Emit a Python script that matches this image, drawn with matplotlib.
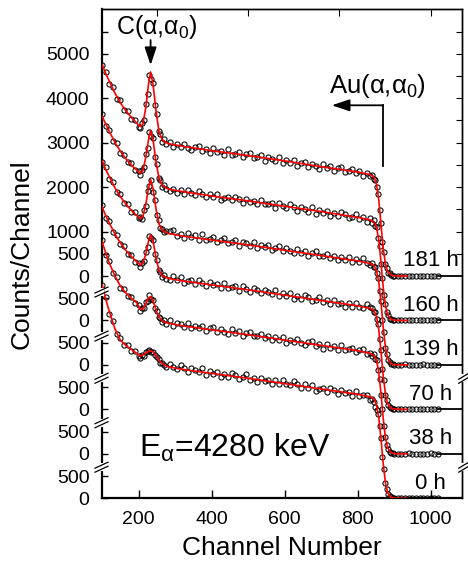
import numpy as np
import matplotlib
matplotlib.use('Agg')
import matplotlib.pyplot as plt

plt.rcParams['font.family'] = ['Liberation Sans', 'DejaVu Sans']
plt.rcParams['mathtext.fontset'] = 'custom'
plt.rcParams['mathtext.rm'] = 'Liberation Sans'
plt.rcParams['mathtext.it'] = 'Liberation Sans:italic'

# channel numbers of the plotted data points
ch = np.concatenate([np.arange(100, 201, 10), np.arange(205, 276, 5),
                     np.arange(285, 836, 10), np.arange(840, 901, 4),
                     np.arange(910, 1021, 10)])

labels = ['181 h', '160 h', '139 h', '70 h', '38 h', '0 h']
offsets = [5000, 4000, 3000, 2000, 1000, 0]

c181 = [4740, 4600, 4330, 4260, 3990, 3950, 3740, 3720, 3540, 3520, 3360,
        3330, 3440, 3520, 3870, 4100, 4520, 4440, 4350, 3850, 3650, 3260, 3200, 3010, 3080, 2960,
        3010, 2900, 2960, 2900, 2980, 2890, 2840, 2910, 2920, 2810, 2850, 2760, 2870, 2780, 2820, 2720,
        2850, 2730, 2750, 2780, 2680, 2740, 2760, 2650, 2670, 2720, 2590, 2670, 2640, 2590, 2680, 2550,
        2600, 2550, 2600, 2480, 2540, 2570, 2460, 2520, 2470, 2410, 2510, 2420, 2470, 2370, 2430, 2460,
        2350, 2360, 2410, 2310, 2360, 2260, 2320, 2260,
        2270, 2190, 2170, 2010, 1850, 1480, 1200, 760, 540, 260, 180, 70, 60, 20, 10, 0,
        0, 10, 0, 5, 0, 0, 10, 0, 5, 0, 0, 5]
c160 = [4640, 4380, 4290, 4040, 3990, 3770, 3720, 3560, 3540, 3380, 3370,
        3280, 3390, 3450, 3740, 3890, 4230, 4150, 4100, 3680, 3520, 3200, 3160, 3000, 3050, 2950,
        2920, 2960, 2860, 2940, 2850, 2930, 2860, 2830, 2910, 2850, 2770, 2850, 2780, 2840, 2710, 2750,
        2780, 2700, 2780, 2730, 2650, 2740, 2660, 2690, 2610, 2720, 2610, 2630, 2640, 2530, 2640, 2570,
        2520, 2610, 2560, 2470, 2550, 2500, 2450, 2550, 2400, 2480, 2410, 2470, 2340, 2410, 2350, 2430,
        2390, 2300, 2330, 2400, 2280, 2320, 2220, 2310,
        2200, 2250, 2120, 2100, 1850, 1680, 1260, 960, 580, 360, 180, 120, 40, 30, 10, 5,
        5, 0, 0, 10, 0, 5, 0, 0, 10, 0, 5, 0]
c139 = [4560, 4450, 4180, 4110, 3880, 3840, 3640, 3610, 3440, 3430, 3300,
        3320, 3290, 3480, 3580, 3920, 4020, 4160, 3900, 3720, 3380, 3250, 3080, 3060, 2980, 3010,
        3010, 3030, 2910, 2950, 2850, 2960, 2880, 2920, 2810, 2940, 2820, 2840, 2870, 2760, 2820, 2850,
        2740, 2760, 2810, 2680, 2770, 2740, 2680, 2770, 2640, 2700, 2650, 2690, 2580, 2640, 2670, 2570,
        2620, 2570, 2510, 2610, 2520, 2570, 2460, 2520, 2560, 2450, 2450, 2500, 2400, 2460, 2360, 2420,
        2360, 2420, 2310, 2380, 2310, 2400, 2300, 2250,
        2290, 2210, 2200, 2070, 1960, 1660, 1430, 1000, 730, 380, 250, 110, 70, 30, 20, 0,
        0, 5, 10, 0, 0, 5, 0, 10, 0, 0, 5, 0]
c70 = [4600, 4310, 4230, 3980, 3920, 3710, 3680, 3490, 3470, 3320, 3300,
       3210, 3300, 3340, 3540, 3660, 3900, 3850, 3820, 3500, 3370, 3130, 3100, 2980, 3020, 2940,
       2910, 2990, 2910, 2980, 2840, 2880, 2910, 2830, 2900, 2850, 2770, 2860, 2790, 2810, 2730, 2840,
       2730, 2760, 2770, 2660, 2770, 2700, 2650, 2740, 2690, 2610, 2690, 2630, 2590, 2690, 2540, 2620,
       2550, 2610, 2480, 2540, 2480, 2570, 2520, 2430, 2460, 2530, 2410, 2450, 2360, 2450, 2370, 2400,
       2310, 2390, 2310, 2390, 2310, 2280, 2360, 2300,
       2280, 2190, 2180, 2040, 1910, 1590, 1330, 910, 650, 330, 220, 90, 60, 30, 10, 5,
       10, 0, 5, 0, 0, 10, 0, 5, 0, 5, 0, 0]
c38 = [4820, 4480, 4340, 4060, 3970, 3740, 3700, 3550, 3520, 3400, 3340,
       3210, 3280, 3270, 3420, 3440, 3570, 3480, 3470, 3280, 3220, 3070, 3060, 2970, 3000, 2930,
       3000, 2870, 2950, 2920, 2860, 2950, 2820, 2880, 2820, 2870, 2760, 2820, 2850, 2740, 2800, 2750,
       2690, 2800, 2710, 2760, 2660, 2720, 2750, 2640, 2650, 2700, 2600, 2650, 2550, 2620, 2560, 2620,
       2500, 2570, 2510, 2590, 2500, 2450, 2510, 2530, 2420, 2460, 2360, 2470, 2390, 2430, 2330, 2450,
       2330, 2350, 2380, 2280, 2330, 2360, 2240, 2260,
       2200, 2240, 2130, 2110, 1880, 1690, 1320, 1010, 630, 390, 200, 120, 50, 30, 20, 0,
       0, 0, 5, 10, 0, 0, 5, 0, 0, 10, 0, 5]
c0 = [4790, 4530, 4150, 3990, 3700, 3600, 3450, 3440, 3320, 3310, 3200,
      3150, 3230, 3200, 3290, 3310, 3340, 3280, 3300, 3220, 3170, 3140, 3050, 3040, 2990, 2960,
      3020, 2950, 2900, 2990, 2930, 2850, 2930, 2880, 2830, 2930, 2780, 2860, 2800, 2850, 2720, 2790,
      2730, 2820, 2780, 2690, 2720, 2790, 2670, 2710, 2620, 2710, 2630, 2660, 2570, 2650, 2570, 2650,
      2570, 2540, 2630, 2560, 2480, 2560, 2480, 2550, 2420, 2460, 2480, 2400, 2480, 2430, 2350, 2430,
      2360, 2390, 2310, 2420, 2300, 2330, 2330, 2220,
      2230, 2170, 2060, 1990, 1900, 1620, 1360, 940, 660, 340, 220, 100, 50, 20, 10, 5,
      5, 0, 0, 5, 10, 0, 0, 5, 0, 0, 10, 0]

# fitted curves (red lines)
fit_ch = [100, 110, 120, 135, 150, 165, 180, 195, 205, 212, 220, 227, 233, 240, 248, 256, 265,
          280, 320, 400, 500, 600, 700, 800, 835, 845, 852, 858, 864, 870, 876, 882, 890, 900, 935]
f181 = [4760, 4560, 4380, 4120, 3900, 3720, 3570, 3440, 3360, 3420, 3800, 4300, 4590, 4300, 3700, 3250, 3060,
        2980, 2920, 2820, 2710, 2590, 2460, 2340, 2280, 2220, 2050, 1700, 1150, 620, 280, 110, 30, 5, 0]
f160 = [4600, 4420, 4250, 4010, 3810, 3640, 3500, 3380, 3310, 3370, 3680, 4050, 4280, 4050, 3550, 3200, 3040,
        2960, 2900, 2800, 2690, 2570, 2450, 2320, 2260, 2210, 2080, 1800, 1300, 750, 340, 130, 35, 5, 0]
f139 = [4600, 4400, 4230, 3990, 3790, 3620, 3480, 3360, 3290, 3340, 3620, 3960, 4170, 3960, 3500, 3170, 3030,
        2960, 2900, 2810, 2700, 2580, 2460, 2340, 2280, 2230, 2110, 1850, 1400, 850, 400, 150, 40, 5, 0]
f70 = [4560, 4360, 4190, 3950, 3750, 3580, 3440, 3320, 3250, 3290, 3500, 3780, 3930, 3780, 3400, 3130, 3010,
       2950, 2890, 2800, 2690, 2570, 2450, 2330, 2270, 2220, 2080, 1780, 1300, 760, 350, 130, 35, 5, 0]
f38 = [4780, 4520, 4290, 4010, 3780, 3620, 3500, 3400, 3250, 3260, 3380, 3500, 3540, 3440, 3230, 3080, 2990,
       2940, 2880, 2790, 2680, 2560, 2440, 2320, 2260, 2210, 2090, 1820, 1350, 800, 370, 140, 35, 5, 0]
f0 = [4810, 4480, 4200, 3820, 3560, 3440, 3350, 3260, 3200, 3220, 3270, 3300, 3320, 3290, 3210, 3110, 3030,
      2960, 2900, 2810, 2700, 2580, 2460, 2340, 2280, 2230, 2090, 1800, 1330, 780, 360, 130, 30, 5, 0]

data = [c181, c160, c139, c70, c38, c0]
fits = [f181, f160, f139, f70, f38, f0]

breaks_left = [700, 1700, 2700, 3650, 4640]
breaks_right = [700, 2700]

xmin, xmax = 100, 1085
ymin, ymax = 0, 11000

fig = plt.figure(figsize=(4.68, 5.66), dpi=100)
ax = fig.add_axes([0.218, 0.1196, 0.7686, 0.864])
ax.set_xlim(xmin, xmax)
ax.set_ylim(ymin, ymax)

for cts, off in zip(data, offsets):
    ax.plot(ch, np.array(cts) + off, 'o', mfc='none', mec='black', ms=3.7, mew=0.75, zorder=2)
for f, off in zip(fits, offsets):
    ax.plot(fit_ch, np.array(f) + off, '-', color='red', lw=1.2, zorder=3)
for off, lab in zip(offsets, labels):
    if off > 0:
        ax.plot([ch[-1], xmax], [off, off], color='black', lw=1.3, zorder=3)
    ax.text(1000, off + 215, lab, ha='center', va='baseline', fontsize=16)

# y ticks: 0/500 for every lower spectrum, full scale for the top one
top = offsets[0]
ypos, ylab = [], []
for off in offsets[:0:-1]:
    ypos += [off, off + 500]
    ylab += ['0', '500']
for v in [0, 500, 1000, 2000, 3000, 4000, 5000]:
    ypos.append(top + v)
    ylab.append(str(v))
ax.set_yticks(ypos, ylab)
ax.set_yticks([top + 5500], minor=True)
ax.set_xticks([200, 400, 600, 800, 1000])
ax.tick_params(axis='y', which='both', direction='in', length=4, width=1, pad=9, labelsize=14)
ax.tick_params(axis='x', direction='in', length=6, width=1, pad=9, labelsize=14)

secx = ax.secondary_xaxis('top')
secx.set_ticks([250, 500, 750, 1000])
secx.tick_params(direction='in', length=5, labeltop=False)
secy = ax.secondary_yaxis('right')
secy.set_ticks(np.arange(top + 500, ymax, 500))
secy.tick_params(direction='in', length=4, labelright=False)
for s in ['left', 'bottom']:
    ax.spines[s].set_linewidth(1.6)
for s in ['top', 'right']:
    ax.spines[s].set_linewidth(1.0)
secx.spines['top'].set_linewidth(1.0)
secy.spines['right'].set_linewidth(1.0)

ax.set_xlabel('Channel Number', fontsize=19, labelpad=6)
ax.set_ylabel('Counts/Channel', fontsize=19, labelpad=9)

# axis break marks
kx = (xmax - xmin) / (0.7686 * 468)
ky = (ymax - ymin) / (0.864 * 566)


def break_mark(x0, yb, left_px, right_px):
    ax.plot([x0, x0], [yb - 2 * ky, yb + 2 * ky], color='white', lw=3, clip_on=False, zorder=5)
    for s in (-2, 2):
        ax.plot([x0 - left_px * kx, x0 + right_px * kx],
                [yb + (s - 3) * ky, yb + (s + 3) * ky],
                color='black', lw=0.9, clip_on=False, zorder=6)


for yb in breaks_left:
    break_mark(xmin, yb, 7, 6)
for yb in breaks_right:
    break_mark(xmax, yb, 3, 7)

# peak annotations
ax.text(250, 10436, r'C(α,α$_0$)', ha='center', va='baseline', fontsize=18)
ax.annotate('', xy=(233, 9743), xytext=(233, 10307),
            arrowprops=dict(arrowstyle='-|>,head_length=0.9,head_width=0.3', color='black',
                            lw=1.3, mutation_scale=12, shrinkA=0, shrinkB=0))
ax.text(854, 9120, r'Au(α,α$_0$)', ha='center', va='baseline', fontsize=18.5)
ax.plot([870, 870], [7485, 8840], color='black', lw=1.3)
ax.annotate('', xy=(729, 8840), xytext=(870, 8840),
            arrowprops=dict(arrowstyle='-|>,head_length=0.9,head_width=0.3', color='black',
                            lw=1.3, mutation_scale=12, shrinkA=0, shrinkB=0))
ax.text(462, 925, r'E$_\mathrm{\alpha}$=4280 keV', ha='center', va='baseline', fontsize=23)

fig.savefig('out.png', dpi=100)
